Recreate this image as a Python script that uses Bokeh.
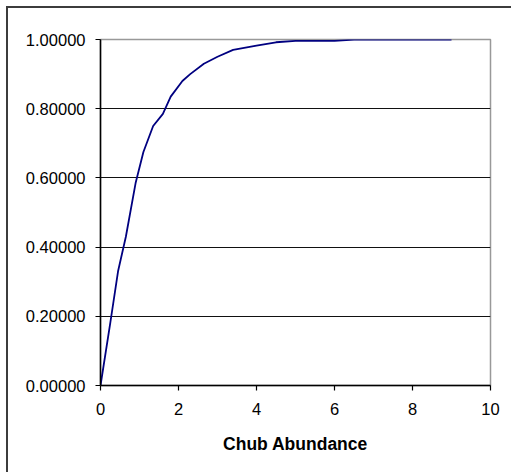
from bokeh.plotting import figure
from bokeh.models import FixedTicker, NumeralTickFormatter, Range1d
from bokeh.embed import file_html
from bokeh.resources import INLINE

# data
chub_abundance = [0, 0.25, 0.45, 0.65, 0.9, 1.1, 1.35, 1.6, 1.8, 2.1, 2.3, 2.65, 3.0, 3.4,
                  4.0, 4.5, 5.0, 6.0, 6.5, 7.0, 8.0, 9.0]
cumulative = [0, 0.18, 0.33, 0.43, 0.585, 0.675, 0.75, 0.785, 0.835, 0.88, 0.90, 0.93, 0.95, 0.97,
              0.982, 0.992, 0.996, 0.996, 1.0, 1.0, 1.0, 1.0]
x_ticks = [0, 2, 4, 6, 8, 10]
y_ticks = [0, 0.2, 0.4, 0.6, 0.8, 1.0]
x_label = "Chub Abundance"

FONT = "Liberation Sans"

p = figure(width=511, height=472, output_backend="svg", toolbar_location=None,
           x_range=Range1d(0, 10), y_range=Range1d(0, 1),
           min_border_left=100, min_border_right=21, min_border_top=39, min_border_bottom=87)
p.styles = {"background-color": "white",
            "box-shadow": "inset 6px 6px 0 0 white, inset 8px 8px 0 0 #3c3c3c"}

p.background_fill_color = "white"
p.border_fill_color = None
p.outline_line_color = "#999999"
p.outline_line_width = 1.5

p.line(chub_abundance, cumulative, line_color="#000080", line_width=1.8)

p.xgrid.visible = False
p.ygrid.ticker = FixedTicker(ticks=[0.2, 0.4, 0.6, 0.8])
p.ygrid.grid_line_color = "#111111"
p.ygrid.grid_line_width = 1.2

for ax in (p.xaxis[0], p.yaxis[0]):
    ax.axis_line_color = "black"
    ax.axis_line_width = 1.5
    ax.major_tick_line_color = "black"
    ax.major_tick_line_width = 1.2
    ax.major_tick_out = 5
    ax.major_tick_in = 0
    ax.minor_tick_line_color = None
    ax.major_label_text_font = FONT
    ax.major_label_text_font_size = "16.5px"
    ax.major_label_text_color = "black"

p.xaxis.ticker = FixedTicker(ticks=x_ticks)
p.yaxis.ticker = FixedTicker(ticks=y_ticks)
p.yaxis.formatter = NumeralTickFormatter(format="0.00000")
p.xaxis.major_label_standoff = 12
p.yaxis.major_label_standoff = 10

p.xaxis.axis_label = x_label
p.xaxis.axis_label_text_font = FONT
p.xaxis.axis_label_text_font_size = "17.5px"
p.xaxis.axis_label_text_font_style = "bold"
p.xaxis.axis_label_text_color = "black"
p.xaxis.axis_label_standoff = 16

open("out.html", "w").write(file_html(p, INLINE))
